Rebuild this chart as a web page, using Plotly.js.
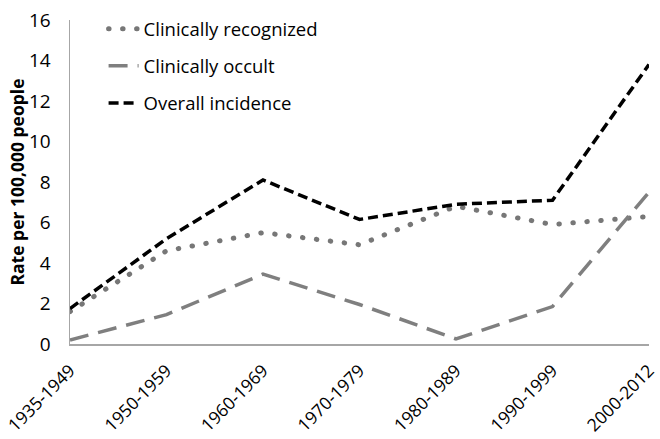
<!DOCTYPE html>
<html>
<head>
<meta charset="utf-8">
<script src="https://cdn.plot.ly/plotly-3.0.1.min.js"></script>
<style>
html,body{margin:0;padding:0;background:#fff;}
#chart{width:660px;height:439px;}
</style>
</head>
<body>
<div id="chart"></div>
<script>
const periods = ["1935-1949","1950-1959","1960-1969","1970-1979","1980-1989","1990-1999","2000-2012"];
const clinicallyRecognized = [1.6, 4.6, 5.5, 4.9, 6.8, 5.9, 6.3];
const clinicallyOcult = [0.2, 1.45, 3.45, 1.95, 0.25, 1.85, 7.5];
const overallIncidence = [1.75, 5.2, 8.1, 6.15, 6.9, 7.1, 13.8];
const seriesNames = ["Clinically recognized", "Clinically occult", "Overall incidence"];

const font = "'Open Sans', 'Liberation Sans', Arial, sans-serif";

const traces = [
  {x: periods, y: clinicallyRecognized, name: seriesNames[0], legendgroup: "a", mode: "lines",
   line: {color: "#777777", width: 5, dash: "0.5px,13.5px"}},
  {x: periods, y: clinicallyOcult, name: seriesNames[1], legendgroup: "b", mode: "lines",
   line: {color: "#7f7f7f", width: 3.5, dash: "19px,10px"}},
  {x: periods, y: overallIncidence, name: seriesNames[2], legendgroup: "c", mode: "lines",
   line: {color: "#000000", width: 3.5, dash: "10px,5px"}}
];

const layout = {
  width: 660, height: 439,
  margin: {l: 70, r: 11, t: 10, b: 95},
  paper_bgcolor: "#fff", plot_bgcolor: "#fff",
  font: {family: font, size: 17, color: "#000"},
  showlegend: true,
  legend: {x: 0.058, y: 1.03, xanchor: "left", yanchor: "top", bgcolor: "rgba(0,0,0,0)",
           traceorder: "grouped", tracegroupgap: 10, font: {family: font, size: 18.5, color: "#000"}},
  xaxis: {type: "category", range: [0, 6], showgrid: false, zeroline: false,
          showline: true, linecolor: "#a6a6a6", linewidth: 1.5,
          ticks: "outside", ticklen: 8, tickcolor: "rgba(0,0,0,0)", ticklabeloverflow: "allow",
          tickangle: -45, tickfont: {family: font, size: 17.5}, fixedrange: true},
  yaxis: {range: [0, 16], dtick: 2, showgrid: false, zeroline: false,
          showline: true, linecolor: "#a6a6a6", linewidth: 1.5,
          ticks: "outside", ticklen: 14, tickcolor: "rgba(0,0,0,0)", ticklabeloverflow: "allow",
          tickfont: {family: font, size: 19},
          title: {text: "Rate per 100,000 people", font: {family: font, size: 17.5, color: "#000", weight: "bold"}, standoff: 0}}
};

Plotly.newPlot("chart", traces, layout, {staticPlot: true, displayModeBar: false}).then(() => {
  document.querySelectorAll("path.js-line").forEach(p => {
    const da = p.style.strokeDasharray || "";
    if (da.indexOf("0.5") === 0) p.style.strokeLinecap = "round";
  });
});
</script>
</body>
</html>
